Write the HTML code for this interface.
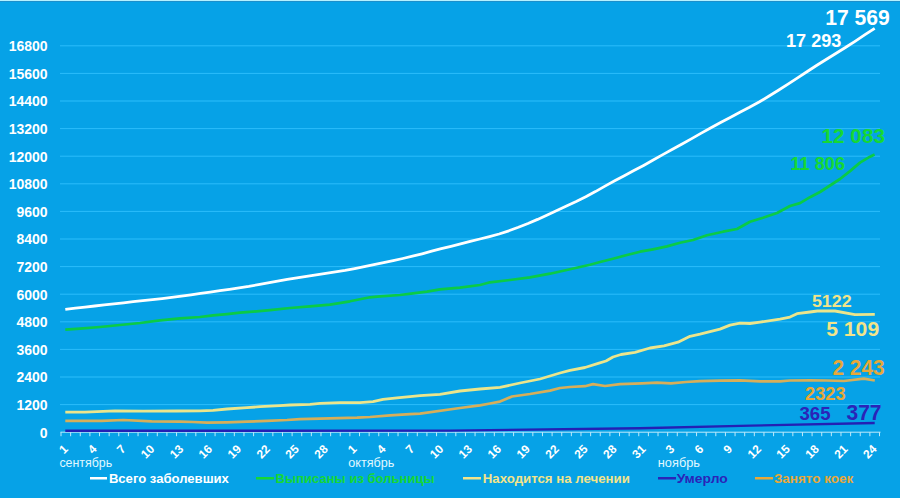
<!DOCTYPE html><html><head><meta charset="utf-8"><style>html,body{margin:0;padding:0;background:#06A2E7;}svg{display:block;}text{font-family:"Liberation Sans",sans-serif;}</style></head><body>
<svg width="900" height="498" viewBox="0 0 900 498">
<rect x="0" y="0" width="900" height="498" fill="#06A2E7"/>
<rect x="0" y="0" width="900" height="1" fill="#B4F0FF"/>
<rect x="0" y="1" width="900" height="1" fill="#1C8FCB"/>
<rect x="60" y="404.10" width="820" height="1" fill="#2CBDFB"/>
<text x="47.6" y="410.00" font-size="14" font-weight="bold" fill="#FFFFFF" text-anchor="end">1200</text>
<rect x="60" y="376.50" width="820" height="1" fill="#2CBDFB"/>
<text x="47.6" y="382.40" font-size="14" font-weight="bold" fill="#FFFFFF" text-anchor="end">2400</text>
<rect x="60" y="348.90" width="820" height="1" fill="#2CBDFB"/>
<text x="47.6" y="354.80" font-size="14" font-weight="bold" fill="#FFFFFF" text-anchor="end">3600</text>
<rect x="60" y="321.30" width="820" height="1" fill="#2CBDFB"/>
<text x="47.6" y="327.20" font-size="14" font-weight="bold" fill="#FFFFFF" text-anchor="end">4800</text>
<rect x="60" y="293.70" width="820" height="1" fill="#2CBDFB"/>
<text x="47.6" y="299.60" font-size="14" font-weight="bold" fill="#FFFFFF" text-anchor="end">6000</text>
<rect x="60" y="266.10" width="820" height="1" fill="#2CBDFB"/>
<text x="47.6" y="272.00" font-size="14" font-weight="bold" fill="#FFFFFF" text-anchor="end">7200</text>
<rect x="60" y="238.50" width="820" height="1" fill="#2CBDFB"/>
<text x="47.6" y="244.40" font-size="14" font-weight="bold" fill="#FFFFFF" text-anchor="end">8400</text>
<rect x="60" y="210.90" width="820" height="1" fill="#2CBDFB"/>
<text x="47.6" y="216.80" font-size="14" font-weight="bold" fill="#FFFFFF" text-anchor="end">9600</text>
<rect x="60" y="183.30" width="820" height="1" fill="#2CBDFB"/>
<text x="47.6" y="189.20" font-size="14" font-weight="bold" fill="#FFFFFF" text-anchor="end">10800</text>
<rect x="60" y="155.70" width="820" height="1" fill="#2CBDFB"/>
<text x="47.6" y="161.60" font-size="14" font-weight="bold" fill="#FFFFFF" text-anchor="end">12000</text>
<rect x="60" y="128.10" width="820" height="1" fill="#2CBDFB"/>
<text x="47.6" y="134.00" font-size="14" font-weight="bold" fill="#FFFFFF" text-anchor="end">13200</text>
<rect x="60" y="100.50" width="820" height="1" fill="#2CBDFB"/>
<text x="47.6" y="106.40" font-size="14" font-weight="bold" fill="#FFFFFF" text-anchor="end">14400</text>
<rect x="60" y="72.90" width="820" height="1" fill="#2CBDFB"/>
<text x="47.6" y="78.80" font-size="14" font-weight="bold" fill="#FFFFFF" text-anchor="end">15600</text>
<rect x="60" y="45.30" width="820" height="1" fill="#2CBDFB"/>
<text x="47.6" y="51.20" font-size="14" font-weight="bold" fill="#FFFFFF" text-anchor="end">16800</text>
<text x="47.6" y="437.60" font-size="14" font-weight="bold" fill="#FFFFFF" text-anchor="end">0</text>
<rect x="60.5" y="431.70" width="820" height="1" fill="#BFEAFB"/>
<rect x="60.50" y="432.20" width="1" height="4" fill="#BFEAFB"/>
<rect x="70.13" y="432.20" width="1" height="4" fill="#BFEAFB"/>
<rect x="79.76" y="432.20" width="1" height="4" fill="#BFEAFB"/>
<rect x="89.39" y="432.20" width="1" height="4" fill="#BFEAFB"/>
<rect x="99.02" y="432.20" width="1" height="4" fill="#BFEAFB"/>
<rect x="108.65" y="432.20" width="1" height="4" fill="#BFEAFB"/>
<rect x="118.28" y="432.20" width="1" height="4" fill="#BFEAFB"/>
<rect x="127.91" y="432.20" width="1" height="4" fill="#BFEAFB"/>
<rect x="137.54" y="432.20" width="1" height="4" fill="#BFEAFB"/>
<rect x="147.16" y="432.20" width="1" height="4" fill="#BFEAFB"/>
<rect x="156.79" y="432.20" width="1" height="4" fill="#BFEAFB"/>
<rect x="166.42" y="432.20" width="1" height="4" fill="#BFEAFB"/>
<rect x="176.05" y="432.20" width="1" height="4" fill="#BFEAFB"/>
<rect x="185.68" y="432.20" width="1" height="4" fill="#BFEAFB"/>
<rect x="195.31" y="432.20" width="1" height="4" fill="#BFEAFB"/>
<rect x="204.94" y="432.20" width="1" height="4" fill="#BFEAFB"/>
<rect x="214.57" y="432.20" width="1" height="4" fill="#BFEAFB"/>
<rect x="224.20" y="432.20" width="1" height="4" fill="#BFEAFB"/>
<rect x="233.83" y="432.20" width="1" height="4" fill="#BFEAFB"/>
<rect x="243.46" y="432.20" width="1" height="4" fill="#BFEAFB"/>
<rect x="253.09" y="432.20" width="1" height="4" fill="#BFEAFB"/>
<rect x="262.72" y="432.20" width="1" height="4" fill="#BFEAFB"/>
<rect x="272.35" y="432.20" width="1" height="4" fill="#BFEAFB"/>
<rect x="281.98" y="432.20" width="1" height="4" fill="#BFEAFB"/>
<rect x="291.61" y="432.20" width="1" height="4" fill="#BFEAFB"/>
<rect x="301.24" y="432.20" width="1" height="4" fill="#BFEAFB"/>
<rect x="310.86" y="432.20" width="1" height="4" fill="#BFEAFB"/>
<rect x="320.49" y="432.20" width="1" height="4" fill="#BFEAFB"/>
<rect x="330.12" y="432.20" width="1" height="4" fill="#BFEAFB"/>
<rect x="339.75" y="432.20" width="1" height="4" fill="#BFEAFB"/>
<rect x="349.38" y="432.20" width="1" height="4" fill="#BFEAFB"/>
<rect x="359.01" y="432.20" width="1" height="4" fill="#BFEAFB"/>
<rect x="368.64" y="432.20" width="1" height="4" fill="#BFEAFB"/>
<rect x="378.27" y="432.20" width="1" height="4" fill="#BFEAFB"/>
<rect x="387.90" y="432.20" width="1" height="4" fill="#BFEAFB"/>
<rect x="397.53" y="432.20" width="1" height="4" fill="#BFEAFB"/>
<rect x="407.16" y="432.20" width="1" height="4" fill="#BFEAFB"/>
<rect x="416.79" y="432.20" width="1" height="4" fill="#BFEAFB"/>
<rect x="426.42" y="432.20" width="1" height="4" fill="#BFEAFB"/>
<rect x="436.05" y="432.20" width="1" height="4" fill="#BFEAFB"/>
<rect x="445.68" y="432.20" width="1" height="4" fill="#BFEAFB"/>
<rect x="455.31" y="432.20" width="1" height="4" fill="#BFEAFB"/>
<rect x="464.94" y="432.20" width="1" height="4" fill="#BFEAFB"/>
<rect x="474.56" y="432.20" width="1" height="4" fill="#BFEAFB"/>
<rect x="484.19" y="432.20" width="1" height="4" fill="#BFEAFB"/>
<rect x="493.82" y="432.20" width="1" height="4" fill="#BFEAFB"/>
<rect x="503.45" y="432.20" width="1" height="4" fill="#BFEAFB"/>
<rect x="513.08" y="432.20" width="1" height="4" fill="#BFEAFB"/>
<rect x="522.71" y="432.20" width="1" height="4" fill="#BFEAFB"/>
<rect x="532.34" y="432.20" width="1" height="4" fill="#BFEAFB"/>
<rect x="541.97" y="432.20" width="1" height="4" fill="#BFEAFB"/>
<rect x="551.60" y="432.20" width="1" height="4" fill="#BFEAFB"/>
<rect x="561.23" y="432.20" width="1" height="4" fill="#BFEAFB"/>
<rect x="570.86" y="432.20" width="1" height="4" fill="#BFEAFB"/>
<rect x="580.49" y="432.20" width="1" height="4" fill="#BFEAFB"/>
<rect x="590.12" y="432.20" width="1" height="4" fill="#BFEAFB"/>
<rect x="599.75" y="432.20" width="1" height="4" fill="#BFEAFB"/>
<rect x="609.38" y="432.20" width="1" height="4" fill="#BFEAFB"/>
<rect x="619.01" y="432.20" width="1" height="4" fill="#BFEAFB"/>
<rect x="628.64" y="432.20" width="1" height="4" fill="#BFEAFB"/>
<rect x="638.26" y="432.20" width="1" height="4" fill="#BFEAFB"/>
<rect x="647.89" y="432.20" width="1" height="4" fill="#BFEAFB"/>
<rect x="657.52" y="432.20" width="1" height="4" fill="#BFEAFB"/>
<rect x="667.15" y="432.20" width="1" height="4" fill="#BFEAFB"/>
<rect x="676.78" y="432.20" width="1" height="4" fill="#BFEAFB"/>
<rect x="686.41" y="432.20" width="1" height="4" fill="#BFEAFB"/>
<rect x="696.04" y="432.20" width="1" height="4" fill="#BFEAFB"/>
<rect x="705.67" y="432.20" width="1" height="4" fill="#BFEAFB"/>
<rect x="715.30" y="432.20" width="1" height="4" fill="#BFEAFB"/>
<rect x="724.93" y="432.20" width="1" height="4" fill="#BFEAFB"/>
<rect x="734.56" y="432.20" width="1" height="4" fill="#BFEAFB"/>
<rect x="744.19" y="432.20" width="1" height="4" fill="#BFEAFB"/>
<rect x="753.82" y="432.20" width="1" height="4" fill="#BFEAFB"/>
<rect x="763.45" y="432.20" width="1" height="4" fill="#BFEAFB"/>
<rect x="773.08" y="432.20" width="1" height="4" fill="#BFEAFB"/>
<rect x="782.71" y="432.20" width="1" height="4" fill="#BFEAFB"/>
<rect x="792.34" y="432.20" width="1" height="4" fill="#BFEAFB"/>
<rect x="801.96" y="432.20" width="1" height="4" fill="#BFEAFB"/>
<rect x="811.59" y="432.20" width="1" height="4" fill="#BFEAFB"/>
<rect x="821.22" y="432.20" width="1" height="4" fill="#BFEAFB"/>
<rect x="830.85" y="432.20" width="1" height="4" fill="#BFEAFB"/>
<rect x="840.48" y="432.20" width="1" height="4" fill="#BFEAFB"/>
<rect x="850.11" y="432.20" width="1" height="4" fill="#BFEAFB"/>
<rect x="859.74" y="432.20" width="1" height="4" fill="#BFEAFB"/>
<rect x="869.37" y="432.20" width="1" height="4" fill="#BFEAFB"/>
<rect x="879.00" y="432.20" width="1" height="4" fill="#BFEAFB"/>
<polyline points="65.3,430.8 450.0,430.6 640.0,428.3 751.0,425.6 874.7,423.0" fill="none" stroke="#2420B4" stroke-width="2.4" stroke-linejoin="round" stroke-linecap="butt"/>
<polyline points="65.3,420.8 101.7,420.8 123.3,420.0 151.7,421.3 180.0,421.6 193.0,422.0 207.0,422.7 227.0,422.3 247.0,421.6 267.0,420.9 287.0,420.0 300.0,419.1 330.0,418.3 357.0,417.7 370.0,417.0 390.0,415.4 410.0,414.1 420.0,413.6 460.0,408.0 480.0,405.4 490.0,403.5 500.0,401.6 506.0,399.0 512.0,396.5 530.0,394.0 550.0,390.6 560.0,388.0 570.0,387.0 585.0,386.2 593.0,384.1 605.0,386.0 620.0,384.1 642.0,383.4 657.0,382.6 671.0,383.4 686.0,382.0 700.0,381.2 720.0,380.7 740.0,380.3 760.0,381.3 780.0,381.3 790.0,380.5 810.0,380.4 826.2,380.5 843.9,381.0 863.8,378.7 874.8,380.5" fill="none" stroke="#D6AE5A" stroke-width="2.7" stroke-linejoin="round" stroke-linecap="butt"/>
<polyline points="65.3,412.2 85.0,412.2 115.0,410.8 143.3,411.2 176.7,411.0 200.0,410.9 213.0,410.3 227.0,409.0 247.0,407.6 260.0,406.7 280.0,405.7 290.0,405.0 310.0,404.3 320.0,403.3 340.0,402.7 360.0,402.7 373.0,401.7 383.0,399.4 397.0,397.9 410.0,396.7 420.0,395.6 440.0,394.4 460.0,391.0 480.0,389.0 500.0,387.4 520.0,383.0 540.0,379.0 560.0,373.0 570.0,370.3 585.0,367.5 599.0,363.1 606.0,361.0 613.0,357.0 621.0,354.5 635.0,352.3 650.0,348.0 664.0,345.8 678.0,342.2 690.0,336.3 700.0,334.1 720.0,329.1 730.0,325.1 740.0,323.1 750.0,323.5 760.0,322.1 780.0,319.1 790.0,317.1 797.0,313.7 810.0,312.0 817.4,311.0 835.0,311.0 854.9,314.7 874.8,314.3" fill="none" stroke="#EBE58C" stroke-width="2.8" stroke-linejoin="round" stroke-linecap="butt"/>
<polyline points="65.3,329.7 80.0,328.7 100.0,327.0 120.0,325.0 140.0,323.0 160.0,320.3 180.0,318.3 200.0,317.0 213.0,315.3 227.0,314.1 240.0,312.7 253.0,311.7 270.0,310.2 290.0,308.0 310.0,306.4 330.0,304.7 350.0,301.3 370.0,297.3 380.0,296.3 400.0,295.0 413.0,293.4 427.0,291.7 440.0,289.3 460.0,287.7 480.0,285.0 490.0,282.3 510.0,280.0 530.0,277.3 550.0,273.7 570.0,269.3 590.0,264.7 600.0,262.0 613.0,258.7 627.0,255.0 640.0,251.7 653.0,249.3 667.0,246.4 680.0,242.7 693.0,240.0 707.0,235.3 723.0,231.7 737.0,229.0 750.0,221.7 763.0,217.7 777.0,213.0 790.0,206.0 800.0,203.1 810.0,197.2 820.0,192.0 830.0,185.5 840.0,179.0 850.0,171.1 860.0,162.6 870.0,156.7 874.6,154.6" fill="none" stroke="#0BCB46" stroke-width="2.7" stroke-linejoin="round" stroke-linecap="butt"/>
<polyline points="65.3,309.4 75.4,308.2 85.1,307.1 94.7,306.0 104.3,304.9 113.9,303.9 123.6,302.8 133.2,301.7 142.8,300.7 152.5,299.6 162.1,298.6 171.7,297.4 181.4,296.1 191.0,294.8 200.6,293.4 210.2,292.1 219.9,290.7 229.5,289.3 239.1,287.9 248.8,286.4 258.4,284.6 268.0,282.8 277.6,281.1 287.3,279.4 296.9,277.9 306.5,276.3 316.2,274.8 325.8,273.3 335.4,271.9 345.1,270.4 354.7,268.6 364.3,266.7 373.9,264.7 383.6,262.6 393.2,260.6 402.8,258.5 412.5,256.2 422.1,253.8 431.7,251.2 441.3,248.7 451.0,246.3 460.6,243.8 470.2,241.4 479.9,239.0 489.5,236.6 499.1,234.0 508.8,230.8 518.4,227.3 528.0,223.5 537.6,219.4 547.3,214.9 556.9,210.4 566.5,205.9 576.2,201.5 585.8,196.8 595.4,191.6 605.0,186.1 614.7,180.8 624.3,175.7 633.9,170.6 643.6,165.4 653.2,160.0 662.8,154.6 672.5,149.3 682.1,144.0 691.7,138.6 701.3,133.1 711.0,127.7 720.6,122.5 730.2,117.4 739.9,112.3 749.5,107.3 759.1,102.0 768.7,96.3 778.4,90.3 788.0,84.1 797.6,77.8 807.3,71.5 816.9,65.3 826.5,59.2 836.2,53.2 845.8,47.3 855.4,41.1 865.0,34.7 874.7,28.3" fill="none" stroke="#FFFFFF" stroke-width="2.8" stroke-linejoin="round" stroke-linecap="butt"/>
<text transform="translate(68.61,449.8) rotate(-45)" font-size="12" font-weight="bold" fill="#FFFFFF" text-anchor="end">1</text>
<text transform="translate(97.50,449.8) rotate(-45)" font-size="12" font-weight="bold" fill="#FFFFFF" text-anchor="end">4</text>
<text transform="translate(126.39,449.8) rotate(-45)" font-size="12" font-weight="bold" fill="#FFFFFF" text-anchor="end">7</text>
<text transform="translate(155.28,449.8) rotate(-45)" font-size="12" font-weight="bold" fill="#FFFFFF" text-anchor="end">10</text>
<text transform="translate(184.17,449.8) rotate(-45)" font-size="12" font-weight="bold" fill="#FFFFFF" text-anchor="end">13</text>
<text transform="translate(213.06,449.8) rotate(-45)" font-size="12" font-weight="bold" fill="#FFFFFF" text-anchor="end">16</text>
<text transform="translate(241.94,449.8) rotate(-45)" font-size="12" font-weight="bold" fill="#FFFFFF" text-anchor="end">19</text>
<text transform="translate(270.83,449.8) rotate(-45)" font-size="12" font-weight="bold" fill="#FFFFFF" text-anchor="end">22</text>
<text transform="translate(299.72,449.8) rotate(-45)" font-size="12" font-weight="bold" fill="#FFFFFF" text-anchor="end">25</text>
<text transform="translate(328.61,449.8) rotate(-45)" font-size="12" font-weight="bold" fill="#FFFFFF" text-anchor="end">28</text>
<text transform="translate(357.50,449.8) rotate(-45)" font-size="12" font-weight="bold" fill="#FFFFFF" text-anchor="end">1</text>
<text transform="translate(386.39,449.8) rotate(-45)" font-size="12" font-weight="bold" fill="#FFFFFF" text-anchor="end">4</text>
<text transform="translate(415.27,449.8) rotate(-45)" font-size="12" font-weight="bold" fill="#FFFFFF" text-anchor="end">7</text>
<text transform="translate(444.16,449.8) rotate(-45)" font-size="12" font-weight="bold" fill="#FFFFFF" text-anchor="end">10</text>
<text transform="translate(473.05,449.8) rotate(-45)" font-size="12" font-weight="bold" fill="#FFFFFF" text-anchor="end">13</text>
<text transform="translate(501.94,449.8) rotate(-45)" font-size="12" font-weight="bold" fill="#FFFFFF" text-anchor="end">16</text>
<text transform="translate(530.83,449.8) rotate(-45)" font-size="12" font-weight="bold" fill="#FFFFFF" text-anchor="end">19</text>
<text transform="translate(559.71,449.8) rotate(-45)" font-size="12" font-weight="bold" fill="#FFFFFF" text-anchor="end">22</text>
<text transform="translate(588.60,449.8) rotate(-45)" font-size="12" font-weight="bold" fill="#FFFFFF" text-anchor="end">25</text>
<text transform="translate(617.49,449.8) rotate(-45)" font-size="12" font-weight="bold" fill="#FFFFFF" text-anchor="end">28</text>
<text transform="translate(646.38,449.8) rotate(-45)" font-size="12" font-weight="bold" fill="#FFFFFF" text-anchor="end">31</text>
<text transform="translate(675.27,449.8) rotate(-45)" font-size="12" font-weight="bold" fill="#FFFFFF" text-anchor="end">3</text>
<text transform="translate(704.16,449.8) rotate(-45)" font-size="12" font-weight="bold" fill="#FFFFFF" text-anchor="end">6</text>
<text transform="translate(733.04,449.8) rotate(-45)" font-size="12" font-weight="bold" fill="#FFFFFF" text-anchor="end">9</text>
<text transform="translate(761.93,449.8) rotate(-45)" font-size="12" font-weight="bold" fill="#FFFFFF" text-anchor="end">12</text>
<text transform="translate(790.82,449.8) rotate(-45)" font-size="12" font-weight="bold" fill="#FFFFFF" text-anchor="end">15</text>
<text transform="translate(819.71,449.8) rotate(-45)" font-size="12" font-weight="bold" fill="#FFFFFF" text-anchor="end">18</text>
<text transform="translate(848.60,449.8) rotate(-45)" font-size="12" font-weight="bold" fill="#FFFFFF" text-anchor="end">21</text>
<text transform="translate(877.49,449.8) rotate(-45)" font-size="12" font-weight="bold" fill="#FFFFFF" text-anchor="end">24</text>
<text x="59.4" y="466.8" font-size="12" fill="#E0F8FF" textLength="52.8" lengthAdjust="spacingAndGlyphs">сентябрь</text>
<text x="348.3" y="466.8" font-size="12" fill="#E0F8FF" textLength="46" lengthAdjust="spacingAndGlyphs">октябрь</text>
<text x="657.8" y="466.8" font-size="12" fill="#E0F8FF" textLength="42.2" lengthAdjust="spacingAndGlyphs">ноябрь</text>
<rect x="90" y="477" width="17" height="2.5" fill="#FFFFFF"/>
<text x="108.9" y="483" font-size="12" font-weight="bold" fill="#FFFFFF" textLength="120" lengthAdjust="spacingAndGlyphs">Всего заболевших</text>
<rect x="256" y="477" width="18" height="2.5" fill="#16D834"/>
<text x="275.6" y="483" font-size="12" font-weight="bold" fill="#16D834" textLength="159" lengthAdjust="spacingAndGlyphs">Выписаны из больницы</text>
<rect x="463" y="477" width="18" height="2.5" fill="#F2E48A"/>
<text x="482.8" y="483" font-size="12" font-weight="bold" fill="#F2E48A" textLength="147" lengthAdjust="spacingAndGlyphs">Находится на лечении</text>
<rect x="658" y="477" width="18" height="2.5" fill="#2A24B8"/>
<text x="676.7" y="483" font-size="12" font-weight="bold" fill="#2A24B8" textLength="51" lengthAdjust="spacingAndGlyphs">Умерло</text>
<rect x="755" y="477" width="18" height="2.5" fill="#E8A838"/>
<text x="773.9" y="483" font-size="12" font-weight="bold" fill="#E8A838" textLength="79.4" lengthAdjust="spacingAndGlyphs">Занято коек</text>
<text x="825.2" y="24.7" font-size="22.5" font-weight="bold" fill="#FFFFFF" textLength="64.6" lengthAdjust="spacingAndGlyphs">17 569</text>
<text x="786" y="46.7" font-size="17.7" font-weight="bold" fill="#FFFFFF" textLength="55.3" lengthAdjust="spacingAndGlyphs">17 293</text>
<text x="821.5" y="142.8" font-size="20.5" font-weight="bold" fill="#16D834" textLength="63.5" lengthAdjust="spacingAndGlyphs">12 083</text>
<text x="790.5" y="169.6" font-size="17.5" font-weight="bold" fill="#16D834" textLength="54.5" lengthAdjust="spacingAndGlyphs">11 806</text>
<text x="811.9" y="307.2" font-size="16.5" font-weight="bold" fill="#F2E48A" textLength="39.7" lengthAdjust="spacingAndGlyphs">5122</text>
<text x="826.2" y="336.4" font-size="20" font-weight="bold" fill="#F2E48A" textLength="53" lengthAdjust="spacingAndGlyphs">5 109</text>
<text x="832.4" y="374.8" font-size="21.5" font-weight="bold" fill="#E8A838" textLength="52.2" lengthAdjust="spacingAndGlyphs">2 243</text>
<text x="805" y="399.8" font-size="18" font-weight="bold" fill="#E8A838" textLength="40.6" lengthAdjust="spacingAndGlyphs">2323</text>
<text x="799.5" y="420.2" font-size="17.5" font-weight="bold" fill="#2A24B8" textLength="31" lengthAdjust="spacingAndGlyphs">365</text>
<text x="846.5" y="419.8" font-size="21.5" font-weight="bold" fill="#2A24B8" textLength="35" lengthAdjust="spacingAndGlyphs">377</text>
</svg></body></html>
